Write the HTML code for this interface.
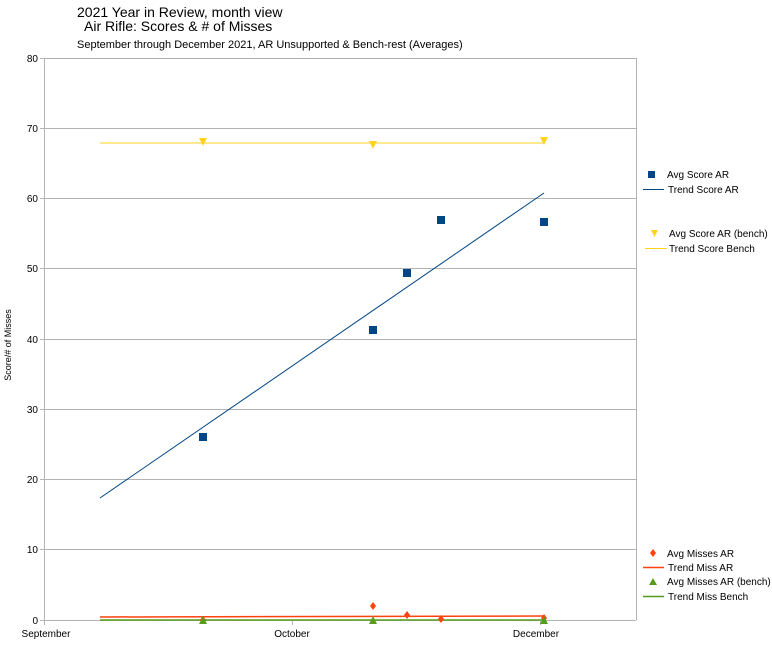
<!DOCTYPE html>
<html><head><style>body{margin:0;background:#fff}</style></head><body>
<svg width="772" height="648" xmlns="http://www.w3.org/2000/svg" font-family="Liberation Sans, sans-serif">
<rect width="772" height="648" fill="#fff"/>
<text x="77" y="17" font-size="14">2021 Year in Review, month view</text>
<text x="84" y="31" font-size="14">Air Rifle: Scores &amp; # of Misses</text>
<text x="77" y="48" font-size="11">September through December 2021, AR Unsupported &amp; Bench-rest (Averages)</text>
<g stroke="#b3b3b3" stroke-width="1">
<line x1="44" y1="58.5" x2="636" y2="58.5"/><line x1="44" y1="128.5" x2="636" y2="128.5"/>
<line x1="44" y1="198.5" x2="636" y2="198.5"/><line x1="44" y1="268.5" x2="636" y2="268.5"/>
<line x1="44" y1="339.5" x2="636" y2="339.5"/><line x1="44" y1="409.5" x2="636" y2="409.5"/>
<line x1="44" y1="479.5" x2="636" y2="479.5"/><line x1="44" y1="549.5" x2="636" y2="549.5"/>
<line x1="44" y1="620.5" x2="636" y2="620.5"/>
<line x1="44.5" y1="58" x2="44.5" y2="625"/><line x1="636.5" y1="58" x2="636.5" y2="620"/>
<line x1="40" y1="58.5" x2="44" y2="58.5"/><line x1="40" y1="128.5" x2="44" y2="128.5"/><line x1="40" y1="198.5" x2="44" y2="198.5"/><line x1="40" y1="268.5" x2="44" y2="268.5"/><line x1="40" y1="339.5" x2="44" y2="339.5"/><line x1="40" y1="409.5" x2="44" y2="409.5"/><line x1="40" y1="479.5" x2="44" y2="479.5"/><line x1="40" y1="549.5" x2="44" y2="549.5"/><line x1="40" y1="620.5" x2="44" y2="620.5"/>
<line x1="292.5" y1="620" x2="292.5" y2="625"/><line x1="540.5" y1="620" x2="540.5" y2="625"/>
</g>
<g font-size="10" text-anchor="end">
<text x="38" y="62">80</text><text x="38" y="132">70</text><text x="38" y="202">60</text><text x="38" y="272">50</text><text x="38" y="343">40</text><text x="38" y="413">30</text><text x="38" y="483">20</text><text x="38" y="553">10</text><text x="38" y="624">0</text>
</g>
<g font-size="10" text-anchor="middle">
<text x="46" y="637">September</text><text x="292" y="637">October</text><text x="536" y="637">December</text>
</g>
<text transform="translate(11,345) rotate(-90)" font-size="9" text-anchor="middle">Score/# of Misses</text>
<line x1="100" y1="143" x2="544" y2="143" stroke="#ffd320" stroke-width="1"/>
<line x1="100" y1="498" x2="544" y2="193" stroke="#004586" stroke-width="1"/>
<line x1="100" y1="617" x2="544" y2="616" stroke="#ff420e" stroke-width="1.5"/>
<line x1="100" y1="620" x2="544" y2="620" stroke="#579d1c" stroke-width="1.5"/>
<g fill="#004586">
<rect x="199" y="433" width="8" height="8"/><rect x="369" y="326" width="8" height="8"/><rect x="403" y="269" width="8" height="8"/><rect x="437" y="216" width="8" height="8"/><rect x="540" y="218" width="8" height="8"/>
</g>
<g fill="#ffd320">
<path d="M199,138h8l-4,8z"/><path d="M369,141h8l-4,8z"/><path d="M540,137h8l-4,8z"/>
</g>
<g fill="#ff420e">
<path d="M203,616l3,4-3,4-3-4z"/><path d="M373,602l3,4-3,4-3-4z"/><path d="M407,611l3,4-3,4-3-4z"/><path d="M441,615l3,4-3,4-3-4z"/><path d="M544,614l3,4-3,4-3-4z"/>
</g>
<g fill="#579d1c">
<path d="M203,616l4,8h-8z"/><path d="M373,616l4,8h-8z"/><path d="M544,616l4,8h-8z"/>
</g>
<g font-size="10">
<rect x="648" y="171" width="7" height="7" fill="#004586"/><text x="667" y="178">Avg Score AR</text>
<line x1="643" y1="189.5" x2="664" y2="189.5" stroke="#004586"/><text x="668" y="193">Trend Score AR</text>
<path d="M651,230h7l-3.5,7z" fill="#ffd320"/><text x="669" y="237">Avg Score AR (bench)</text>
<line x1="645" y1="248.5" x2="667" y2="248.5" stroke="#ffd320"/><text x="669" y="252">Trend Score Bench</text>
<path d="M653,549l3,4-3,4-3-4z" fill="#ff420e"/><text x="667" y="557">Avg Misses AR</text>
<line x1="643" y1="567.5" x2="664" y2="567.5" stroke="#ff420e" stroke-width="1.5"/><text x="668" y="571">Trend Miss AR</text>
<path d="M653,578l4,7h-8z" fill="#579d1c"/><text x="667" y="585">Avg Misses AR (bench)</text>
<line x1="643" y1="596.5" x2="664" y2="596.5" stroke="#579d1c" stroke-width="1.5"/><text x="668" y="600">Trend Miss Bench</text>
</g>
</svg>
</body></html>
